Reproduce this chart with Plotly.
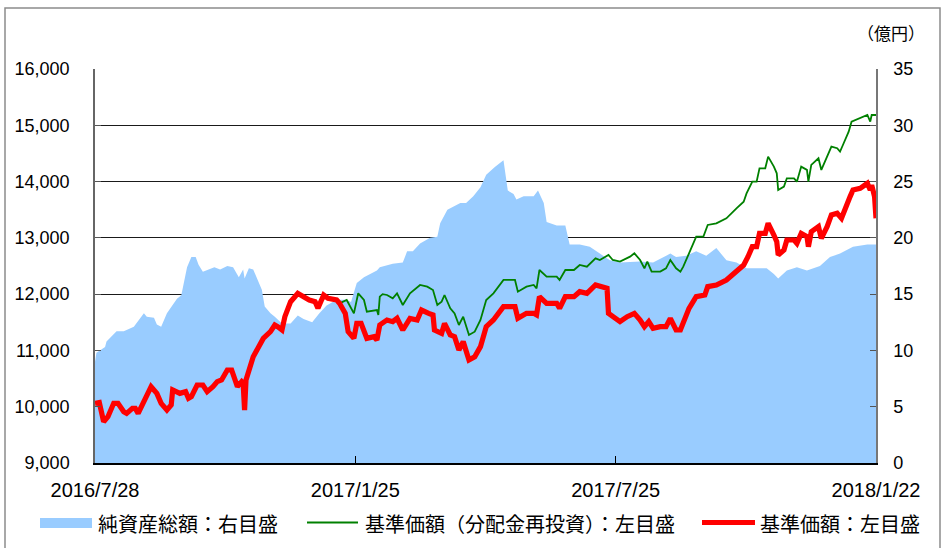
import plotly.graph_objects as go

# ---------------- data ----------------
nav_dates = ["2016-07-28","2016-07-29","2016-08-04","2016-08-05","2016-08-12","2016-08-17","2016-08-24","2016-08-31","2016-09-02","2016-09-07",
             "2016-09-09","2016-09-12","2016-09-16","2016-09-19","2016-09-23","2016-09-26","2016-09-30","2016-10-03","2016-10-06","2016-10-08",
             "2016-10-11","2016-10-19","2016-10-23","2016-10-28","2016-11-01","2016-11-05","2016-11-08","2016-11-09","2016-11-12","2016-11-15",
             "2016-11-18","2016-11-21","2016-11-23","2016-11-27","2016-11-30","2016-12-05","2016-12-11","2016-12-16","2016-12-20","2016-12-26",
             "2016-12-31","2017-01-05","2017-01-12","2017-01-19","2017-01-22","2017-01-26","2017-01-31","2017-02-04","2017-02-09","2017-02-11",
             "2017-02-20","2017-02-27","2017-03-02","2017-03-06","2017-03-11","2017-03-18","2017-03-23","2017-03-25","2017-03-30","2017-04-08",
             "2017-04-12","2017-04-17","2017-04-22","2017-04-26","2017-05-02","2017-05-08","2017-05-11","2017-05-15","2017-05-17","2017-05-22",
             "2017-05-29","2017-06-01","2017-06-05","2017-06-07","2017-06-14","2017-06-20","2017-06-23","2017-06-30","2017-07-07","2017-07-14",
             "2017-07-21","2017-07-28","2017-08-11","2017-08-20","2017-09-01","2017-09-05","2017-09-12","2017-09-19","2017-09-26","2017-10-03",
             "2017-10-10","2017-10-17","2017-10-24","2017-10-31","2017-11-07","2017-11-12","2017-11-15","2017-11-21","2017-11-28","2017-12-05",
             "2017-12-14","2017-12-21","2017-12-28","2018-01-06","2018-01-16","2018-01-21","2018-01-22"]
nav_values = [9.0,9.8,10.3,10.8,11.7,11.7,12.1,13.3,13.0,12.9,
              12.3,12.1,13.3,13.9,14.6,14.9,17.4,18.3,18.3,17.6,
              17.0,17.4,17.2,17.5,17.4,16.5,17.2,16.4,17.3,17.2,
              16.3,15.4,13.9,13.3,13.0,12.4,12.4,13.1,12.8,12.5,
              13.3,14.0,14.5,14.5,14.3,16.0,16.5,16.8,17.1,17.4,
              17.7,17.8,18.8,18.8,19.5,20.0,20.1,21.3,22.5,23.1,
              23.1,23.7,24.5,25.6,26.3,26.9,24.2,23.9,23.4,23.7,
              23.7,24.2,23.1,21.4,21.1,21.1,19.4,19.4,19.2,18.6,
              18.0,17.8,17.9,17.8,18.6,18.3,18.4,18.8,18.4,19.1,
              18.0,17.8,17.3,17.3,17.3,16.8,16.4,17.1,17.4,17.1,
              17.5,18.3,18.6,19.2,19.4,19.4,19.4]

reinv_dates = ["2017-01-14","2017-01-19","2017-01-24","2017-01-27","2017-01-31","2017-02-02","2017-02-09","2017-02-10","2017-02-11","2017-02-13",
               "2017-02-16","2017-02-20","2017-02-23","2017-02-27","2017-03-04","2017-03-11","2017-03-16","2017-03-20","2017-03-23","2017-03-26",
               "2017-03-28","2017-04-01","2017-04-04","2017-04-07","2017-04-10","2017-04-14","2017-04-18","2017-04-22","2017-04-26","2017-05-01",
               "2017-05-08","2017-05-13","2017-05-16","2017-05-18","2017-05-24","2017-05-29","2017-05-31","2017-06-02","2017-06-07","2017-06-14",
               "2017-06-16","2017-06-20","2017-06-26","2017-06-30","2017-07-05","2017-07-11","2017-07-14","2017-07-20","2017-07-23","2017-07-28",
               "2017-08-02","2017-08-04","2017-08-07","2017-08-11","2017-08-14","2017-08-16","2017-08-19","2017-08-25","2017-08-29","2017-09-01",
               "2017-09-05","2017-09-08","2017-09-10","2017-09-14","2017-09-19","2017-09-24","2017-09-27","2017-10-03","2017-10-10","2017-10-17",
               "2017-10-22","2017-10-24","2017-10-28","2017-10-31","2017-11-02","2017-11-06","2017-11-08","2017-11-12","2017-11-14","2017-11-15",
               "2017-11-19","2017-11-21","2017-11-26","2017-11-28","2017-12-01","2017-12-05","2017-12-06","2017-12-08","2017-12-13","2017-12-15",
               "2017-12-19","2017-12-22","2017-12-26","2017-12-28","2017-12-30","2018-01-03","2018-01-05","2018-01-11","2018-01-16","2018-01-18",
               "2018-01-19","2018-01-22"]
reinv_values = [11837,11896,11659,12015,11896,11688,11718,11630,11955,12000,
                11985,11926,12015,11807,12015,12163,12133,12074,11807,11866,
                11985,11748,11659,11452,11600,11274,11333,11541,11896,12015,
                12252,12252,12252,12044,12133,12163,12104,12429,12311,12311,
                12252,12429,12429,12518,12488,12637,12607,12696,12607,12577,
                12637,12666,12725,12607,12459,12577,12400,12400,12459,12607,
                12459,12400,12488,12725,13021,13021,13229,13258,13348,13525,
                13643,13791,13999,13999,14236,14236,14443,14266,14147,13850,
                13910,14058,14058,13999,14266,14207,13999,14296,14414,14207,
                14443,14621,14592,14532,14650,14887,15065,15124,15183,15065,
                15183,15183]

price_dates = ["2016-07-28","2016-07-31","2016-08-03","2016-08-06","2016-08-10","2016-08-13","2016-08-17","2016-08-19","2016-08-23","2016-08-25",
               "2016-08-27","2016-08-31","2016-09-03","2016-09-05","2016-09-09","2016-09-12","2016-09-16","2016-09-19","2016-09-20","2016-09-25",
               "2016-09-29","2016-10-01","2016-10-03","2016-10-07","2016-10-11","2016-10-14","2016-10-18","2016-10-21","2016-10-24","2016-10-28",
               "2016-10-31","2016-11-04","2016-11-07","2016-11-08","2016-11-09","2016-11-10","2016-11-15","2016-11-22","2016-11-27","2016-11-30",
               "2016-12-02","2016-12-05","2016-12-07","2016-12-11","2016-12-14","2016-12-16","2016-12-20","2016-12-24","2016-12-28","2016-12-30",
               "2017-01-03","2017-01-06","2017-01-12","2017-01-14","2017-01-18","2017-01-20","2017-01-24","2017-01-26","2017-01-29","2017-02-02",
               "2017-02-07","2017-02-09","2017-02-11","2017-02-16","2017-02-20","2017-02-23","2017-02-27","2017-03-04","2017-03-09","2017-03-12",
               "2017-03-17","2017-03-20","2017-03-21","2017-03-26","2017-03-28","2017-04-01","2017-04-04","2017-04-07","2017-04-10","2017-04-14",
               "2017-04-18","2017-04-22","2017-04-26","2017-05-01","2017-05-08","2017-05-14","2017-05-16","2017-05-18","2017-05-24","2017-05-29",
               "2017-05-31","2017-06-02","2017-06-07","2017-06-14","2017-06-16","2017-06-20","2017-06-26","2017-06-30","2017-07-05","2017-07-11",
               "2017-07-14","2017-07-19","2017-07-20","2017-07-23","2017-07-28","2017-08-02","2017-08-07","2017-08-11","2017-08-14","2017-08-17",
               "2017-08-20","2017-08-25","2017-08-29","2017-09-01","2017-09-05","2017-09-08","2017-09-11","2017-09-14","2017-09-19","2017-09-25",
               "2017-09-27","2017-10-03","2017-10-10","2017-10-15","2017-10-22","2017-10-25","2017-10-28","2017-10-31","2017-11-02","2017-11-06",
               "2017-11-08","2017-11-12","2017-11-14","2017-11-15","2017-11-19","2017-11-21","2017-11-26","2017-11-28","2017-12-01","2017-12-05",
               "2017-12-06","2017-12-08","2017-12-13","2017-12-15","2017-12-19","2017-12-22","2017-12-26","2017-12-29","2017-12-31","2018-01-04",
               "2018-01-06","2018-01-11","2018-01-16","2018-01-18","2018-01-19","2018-01-21","2018-01-22"]
price_values = [10060,10075,9734,9823,10060,10060,9911,9882,9970,9970,
                9882,10090,10297,10356,10237,10060,9941,10030,10297,10237,
                10267,10149,10178,10386,10386,10267,10356,10446,10475,10652,
                10652,10356,10446,10420,9941,10475,10888,11214,11333,11452,
                11422,11363,11600,11866,11955,12015,11955,11896,11866,11748,
                11985,11926,11896,11837,11659,11333,11214,11481,11481,11214,
                11244,11185,11452,11541,11511,11570,11363,11570,11541,11718,
                11659,11630,11363,11304,11481,11274,11244,11008,11156,10830,
                10888,11067,11422,11541,11778,11778,11778,11570,11659,11659,
                11630,11955,11837,11837,11748,11955,11955,12044,12015,12163,
                12133,12104,11659,11600,11511,11600,11659,11541,11422,11511,
                11393,11422,11422,11570,11363,11363,11541,11748,11955,11985,
                12134,12163,12252,12370,12518,12666,12843,12843,13080,13080,
                13258,13051,12932,12696,12784,12962,12962,12903,13080,13021,
                12843,13110,13199,12992,13199,13407,13436,13348,13496,13733,
                13850,13880,13969,13850,13939,13733,13348]

x_tick_vals = ["2016-07-28", "2017-01-25", "2017-07-25", "2018-01-22"]
x_tick_text = ["2016/7/28", "2017/1/25", "2017/7/25", "2018/1/22"]

legend_names = ["純資産総額：右目盛", "基準価額（分配金再投資）：左目盛", "基準価額：左目盛"]
right_unit = "（億円）"

# ---------------- figure ----------------
W, H = 944, 548
L, R, T, B = 95, 68, 69, 85
pw, ph = W - L - R, H - T - B


def px(x):
    return (x - L) / pw


def py(y):
    return (H - B - y) / ph


fig = go.Figure()

fig.add_trace(go.Scatter(
    x=nav_dates, y=nav_values, yaxis="y", mode="lines",
    line=dict(width=0, color="#99ccff"), fill="tozeroy", fillcolor="#99ccff",
    name=legend_names[0], showlegend=False, hoverinfo="skip"))

fig.add_trace(go.Scatter(
    x=reinv_dates, y=reinv_values, yaxis="y2", mode="lines",
    line=dict(width=1.8, color="#008000"), name=legend_names[1], showlegend=False))

fig.add_trace(go.Scatter(
    x=price_dates, y=price_values, yaxis="y2", mode="lines",
    line=dict(width=5.2, color="#ff0000"), name=legend_names[2], showlegend=False))

num_font = dict(family="Liberation Sans, Arial, sans-serif", size=18, color="#000")
cjk = "Noto Sans CJK JP, sans-serif"

fig.update_layout(
    width=W, height=H,
    margin=dict(l=L, r=R, t=T, b=B, autoexpand=False),
    paper_bgcolor="white", plot_bgcolor="white",
    showlegend=False,
    xaxis=dict(
        type="date", range=["2016-07-28", "2018-01-22"],
        tickvals=x_tick_vals, ticktext=x_tick_text,
        ticks="inside", ticklen=7, tickcolor="#000", tickwidth=1,
        showline=True, linecolor="#000", linewidth=1.5,
        showgrid=False, zeroline=False,
        tickfont=dict(family="Liberation Sans, Arial, sans-serif", size=20, color="#000"),
        ticklabelstandoff=8,
    ),
    yaxis=dict(
        side="right", range=[0, 35], dtick=5, tick0=0,
        ticks="inside", ticklen=6, tickcolor="#555",
        showline=True, linecolor="#777", linewidth=1.5,
        showgrid=True, gridcolor="#1a1a1a", gridwidth=1,
        zeroline=False, tickfont=num_font, ticklabelstandoff=12,
    ),
    yaxis2=dict(
        side="left", overlaying="y", range=[9000, 16000], dtick=1000, tick0=9000,
        tickformat=",d",
        ticks="inside", ticklen=6, tickcolor="#555",
        showline=True, linecolor="#666", linewidth=1.5,
        showgrid=False, zeroline=False, tickfont=num_font, ticklabelstandoff=20,
    ),
)

shapes = []
# outer frame
shapes.append(dict(type="rect", xref="paper", yref="paper",
                   x0=px(5), x1=px(940), y0=py(556), y1=py(8),
                   line=dict(color="#8c8c8c", width=1.5), fillcolor="rgba(0,0,0,0)", layer="below"))
# legend symbols
shapes.append(dict(type="rect", xref="paper", yref="paper",
                   x0=px(40), x1=px(92), y0=py(528), y1=py(518),
                   line=dict(width=0), fillcolor="#99ccff"))
shapes.append(dict(type="line", xref="paper", yref="paper",
                   x0=px(307), x1=px(358), y0=py(522.5), y1=py(522.5),
                   line=dict(color="#008000", width=2)))
shapes.append(dict(type="line", xref="paper", yref="paper",
                   x0=px(702), x1=px(755), y0=py(522.5), y1=py(522.5),
                   line=dict(color="#ff0000", width=5)))

annotations = [
    dict(text=right_unit, xref="paper", yref="paper", x=px(891), y=py(32),
         xanchor="center", yanchor="middle", showarrow=False,
         font=dict(family=cjk, size=17, color="#000")),
    dict(text=legend_names[0], xref="paper", yref="paper", x=px(96), y=py(523),
         xanchor="left", yanchor="middle", showarrow=False,
         font=dict(family=cjk, size=20, color="#000")),
    dict(text=legend_names[1], xref="paper", yref="paper", x=px(363), y=py(523),
         xanchor="left", yanchor="middle", showarrow=False,
         font=dict(family=cjk, size=20, color="#000")),
    dict(text=legend_names[2], xref="paper", yref="paper", x=px(758), y=py(523),
         xanchor="left", yanchor="middle", showarrow=False,
         font=dict(family=cjk, size=20, color="#000")),
]

fig.update_layout(shapes=shapes, annotations=annotations)

fig.write_html("out.html", config={"displayModeBar": False},
               post_script="document.body.style.margin='0px';")
